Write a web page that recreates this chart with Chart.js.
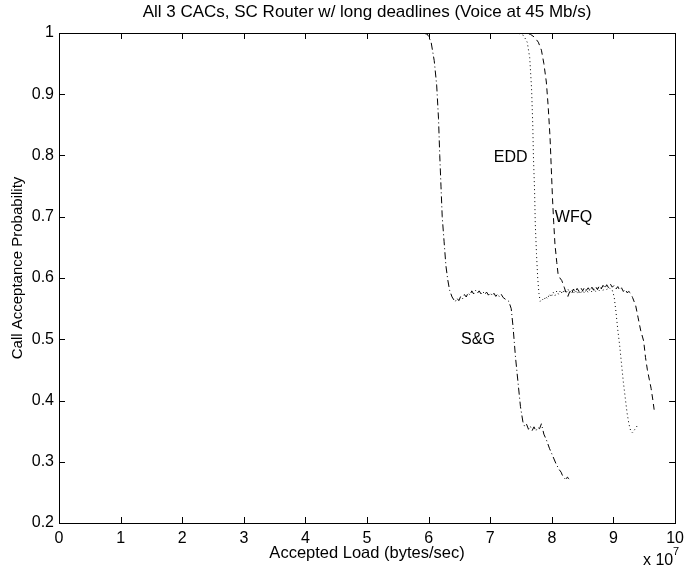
<!DOCTYPE html>
<html>
<head>
<meta charset="utf-8">
<script src="https://cdn.jsdelivr.net/npm/chart.js@4/dist/chart.umd.min.js"></script>
<style>
  html, body { margin: 0; padding: 0; background: #fff; }
  #wrap { width: 690px; height: 571px; }
</style>
</head>
<body>
<div id="wrap"><canvas id="c" width="690" height="571"></canvas></div>
<script>
// x values in units of 1e7 bytes/sec
const sgX = [0, 5.9, 5.98, 6.04, 6.09, 6.13, 6.16, 6.18, 6.2, 6.22, 6.25, 6.28, 6.31, 6.34, 6.38, 6.43,
  6.46, 6.49, 6.52, 6.55, 6.58, 6.61, 6.64, 6.67, 6.7, 6.73, 6.76, 6.79, 6.82, 6.85, 6.88, 6.91, 6.94,
  6.97, 7.0, 7.03, 7.06, 7.09, 7.12, 7.15, 7.18, 7.21, 7.25, 7.3, 7.34, 7.37, 7.41, 7.45, 7.49, 7.53,
  7.56, 7.59, 7.62, 7.65, 7.68, 7.71, 7.74, 7.77, 7.8, 7.83, 7.87, 7.91, 7.96, 8.02, 8.07, 8.12, 8.15,
  8.17, 8.2, 8.23, 8.25, 8.28];
const sgY = [1, 1, 0.998, 0.985, 0.955, 0.915, 0.86, 0.8, 0.75, 0.7, 0.66, 0.62, 0.597, 0.58, 0.569, 0.561,
  0.567, 0.563, 0.57, 0.566, 0.573, 0.569, 0.576, 0.572, 0.579, 0.574, 0.58, 0.575, 0.579, 0.574, 0.578, 0.573, 0.577,
  0.572, 0.576, 0.571, 0.575, 0.57, 0.574, 0.569, 0.573, 0.568, 0.565, 0.562, 0.55, 0.52, 0.47, 0.43, 0.39, 0.365,
  0.357, 0.361, 0.353, 0.358, 0.351, 0.357, 0.35, 0.356, 0.354, 0.362, 0.345, 0.336, 0.322, 0.308, 0.296, 0.287, 0.283,
  0.278, 0.274, 0.27, 0.275, 0.272];

const eddX = [0, 7.45, 7.54, 7.6, 7.64, 7.67, 7.69, 7.7, 7.72, 7.73, 7.75, 7.77, 7.79, 7.81,
  7.84, 7.87, 7.9, 7.93, 7.96, 7.99, 8.02, 8.05, 8.08, 8.11, 8.14, 8.17, 8.2, 8.23, 8.26, 8.29,
  8.32, 8.35, 8.38, 8.41, 8.44, 8.47, 8.5, 8.53, 8.56, 8.59, 8.62, 8.65, 8.68, 8.71, 8.74, 8.77,
  8.8, 8.83, 8.86, 8.89, 8.92, 8.95, 8.98, 9.01, 9.04, 9.07, 9.1, 9.13, 9.16, 9.19, 9.22, 9.25,
  9.28, 9.31, 9.34, 9.37, 9.4];
const eddY = [1, 1, 0.996, 0.985, 0.96, 0.91, 0.85, 0.8, 0.74, 0.69, 0.64, 0.6, 0.575, 0.562,
  0.566, 0.563, 0.57, 0.566, 0.574, 0.569, 0.577, 0.571, 0.579, 0.573, 0.58, 0.574, 0.581, 0.575, 0.582, 0.576,
  0.581, 0.575, 0.58, 0.574, 0.579, 0.574, 0.58, 0.575, 0.581, 0.576, 0.582, 0.577, 0.583, 0.578, 0.584, 0.579,
  0.585, 0.58, 0.586, 0.581, 0.585, 0.582, 0.58, 0.57, 0.545, 0.515, 0.49, 0.46, 0.43, 0.405, 0.38, 0.362,
  0.35, 0.347, 0.352, 0.356, 0.362];

const wfqX = [0, 7.55, 7.65, 7.72, 7.78, 7.83, 7.87, 7.91, 7.94, 7.97, 7.99, 8.01, 8.03, 8.05, 8.08, 8.1,
  8.13, 8.16, 8.2, 8.23, 8.26, 8.29, 8.32, 8.35, 8.38, 8.41, 8.44, 8.47, 8.5, 8.53, 8.56, 8.59, 8.62,
  8.65, 8.68, 8.71, 8.74, 8.77, 8.8, 8.83, 8.86, 8.89, 8.92, 8.95, 8.98, 9.01, 9.04, 9.07, 9.1, 9.13,
  9.16, 9.19, 9.22, 9.25, 9.28, 9.31, 9.36, 9.4, 9.44, 9.49, 9.52, 9.55, 9.58, 9.61, 9.64, 9.66];
const wfqY = [1, 1, 0.998, 0.993, 0.985, 0.972, 0.95, 0.92, 0.88, 0.83, 0.78, 0.73, 0.69, 0.655, 0.625, 0.607,
  0.6, 0.596, 0.585, 0.576, 0.57, 0.578, 0.574, 0.582, 0.577, 0.583, 0.578, 0.584, 0.579, 0.585, 0.58, 0.584, 0.579,
  0.585, 0.58, 0.586, 0.581, 0.587, 0.582, 0.588, 0.583, 0.589, 0.584, 0.59, 0.585, 0.588, 0.582, 0.586, 0.58, 0.584,
  0.578, 0.582, 0.576, 0.578, 0.575, 0.568, 0.555, 0.535, 0.515, 0.497, 0.47, 0.45, 0.435, 0.42, 0.4, 0.385];

const curveLabels = ['EDD', 'WFQ', 'S&G'];
const curveLabelX = [7.33, 8.35, 6.8];
const curveLabelY = [0.797, 0.698, 0.499];

const xTicks = [0, 1, 2, 3, 4, 5, 6, 7, 8, 9, 10];
const yTicks = [0.2, 0.3, 0.4, 0.5, 0.6, 0.7, 0.8, 0.9, 1];

const titleText = 'All 3 CACs, SC Router w/ long deadlines (Voice at 45 Mb/s)';
const yTitleText = 'Call Acceptance Probability';

const FONT = 'Liberation Sans, Arial, Helvetica, sans-serif';

function pts(xs, ys) {
  return xs.map((x, i) => ({ x: x, y: ys[i] }));
}

// matlab style: box around axes, ticks pointing inward, titles and labels on curves
const matlabAxes = {
  id: 'matlabAxes',
  afterDraw(chart) {
    const { ctx, chartArea: a, scales } = chart;
    const xs = scales.x, ys = scales.y;
    const tl = 6;
    ctx.save();
    ctx.strokeStyle = '#000';
    ctx.lineWidth = 1;
    ctx.beginPath();
    xTicks.forEach(v => {
      const px = Math.round(xs.getPixelForValue(v)) + 0.5;
      ctx.moveTo(px, a.bottom); ctx.lineTo(px, a.bottom - tl);
      ctx.moveTo(px, a.top); ctx.lineTo(px, a.top + tl);
    });
    yTicks.forEach(v => {
      const py = Math.round(ys.getPixelForValue(v)) + 0.5;
      ctx.moveTo(a.left, py); ctx.lineTo(a.left + tl, py);
      ctx.moveTo(a.right, py); ctx.lineTo(a.right - tl, py);
    });
    ctx.stroke();
    ctx.strokeRect(Math.round(a.left) + 0.5, Math.round(a.top) + 0.5,
      Math.round(a.right - a.left), Math.round(a.bottom - a.top));

    ctx.fillStyle = '#000';
    ctx.textAlign = 'center';
    ctx.textBaseline = 'middle';
    ctx.font = '17px ' + FONT;
    ctx.fillText(titleText, (a.left + a.right) / 2, 12);

    ctx.font = '16px ' + FONT;
    curveLabels.forEach((t, i) => {
      ctx.fillText(t, xs.getPixelForValue(curveLabelX[i]), ys.getPixelForValue(curveLabelY[i]));
    });

    ctx.save();
    ctx.translate(18, 268);
    ctx.rotate(-Math.PI / 2);
    ctx.font = '15px ' + FONT;
    ctx.fillText(yTitleText, 0, 0);
    ctx.restore();

    // exponent of the x axis
    ctx.font = '16px ' + FONT;
    ctx.textAlign = 'left';
    ctx.textBaseline = 'alphabetic';
    ctx.fillText('x 10', 643, 565);
    ctx.font = '11px ' + FONT;
    ctx.fillText('7', 673, 555);
    ctx.restore();
  }
};

const ctx = document.getElementById('c').getContext('2d');
new Chart(ctx, {
  type: 'line',
  data: {
    datasets: [
      { label: 'S&G', data: pts(sgX, sgY), borderColor: '#000', borderWidth: 1, borderDash: [7, 3, 1, 3] },
      { label: 'EDD', data: pts(eddX, eddY), borderColor: '#000', borderWidth: 1, borderDash: [1, 3] },
      { label: 'WFQ', data: pts(wfqX, wfqY), borderColor: '#000', borderWidth: 1, borderDash: [6, 4] }
    ]
  },
  options: {
    responsive: false,
    animation: false,
    devicePixelRatio: 1,
    elements: { point: { radius: 0 }, line: { tension: 0 } },
    layout: { padding: { left: 0, right: 10, top: 33, bottom: 0 } },
    plugins: {
      legend: { display: false },
      tooltip: { enabled: false },
      title: { display: false }
    },
    scales: {
      x: {
        type: 'linear',
        min: 0, max: 10,
        afterFit: s => { s.height = 48; },
        afterBuildTicks: s => { s.ticks = xTicks.map(v => ({ value: v })); },
        grid: { drawOnChartArea: false, drawTicks: false },
        border: { display: false },
        ticks: { color: '#000', padding: 6, maxRotation: 0, font: { family: FONT, size: 16 } },
        title: {
          display: true, text: 'Accepted Load (bytes/sec)', color: '#000',
          font: { family: FONT, size: 16.5 }, padding: { top: 0, bottom: 8 }
        }
      },
      y: {
        type: 'linear',
        min: 0.2, max: 1,
        afterFit: s => { s.width = 59; },
        afterBuildTicks: s => { s.ticks = yTicks.map(v => ({ value: v })); },
        grid: { drawOnChartArea: false, drawTicks: false },
        border: { display: false },
        ticks: {
          color: '#000', padding: 5, font: { family: FONT, size: 16 },
          callback: v => String(Math.round(v * 10) / 10)
        }
      }
    }
  },
  plugins: [matlabAxes]
});
</script>
</body>
</html>
